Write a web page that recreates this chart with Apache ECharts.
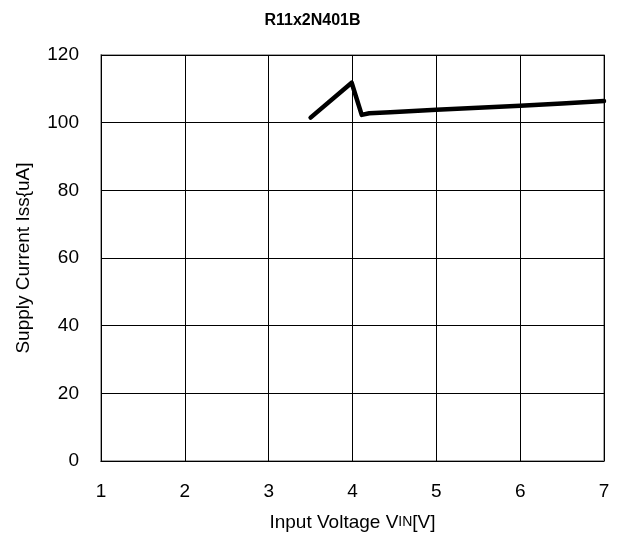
<!DOCTYPE html>
<html><head><meta charset="utf-8">
<script src="https://cdn.jsdelivr.net/npm/echarts@6/dist/echarts.min.js"></script>
<style>html,body{margin:0;padding:0;background:#fff}#c{width:625px;height:542px}</style>
</head><body><div id="c"></div>
<script>
const title = 'R11x2N401B';
const xName = 'Input Voltage V{s|IN}[V]';
const yName = 'Supply Current Iss{uA]';
const vin = [3.5, 3.99, 4.11, 4.2, 4.45, 5.0, 5.5, 6.0, 6.5, 7.0];
const iss = [101.5, 111.8, 102.3, 102.8, 103.1, 103.8, 104.4, 105.0, 105.7, 106.4];
const chart = echarts.init(document.getElementById('c'), null, {renderer: 'canvas'});
const F = 'Liberation Sans, Arial, sans-serif';
chart.setOption({
  animation: false,
  backgroundColor: '#fff',
  title: {text: title, left: 'center', top: 8, textStyle: {fontFamily: F, fontSize: 16, fontWeight: 'bold', color: '#000'}},
  grid: {left: 101, right: 21, top: 55, bottom: 81, show: true, borderColor: '#888', borderWidth: 1.5},
  xAxis: {
    type: 'value', min: 1, max: 7, interval: 1,
    name: xName, nameLocation: 'middle', nameGap: 52,
    nameTextStyle: {fontFamily: F, fontSize: 19, color: '#000', rich: {s: {fontFamily: F, fontSize: 14, color: '#000'}}},
    axisLine: {show: true, onZero: false, lineStyle: {color: '#000', width: 1}},
    axisTick: {show: false},
    splitLine: {show: true, lineStyle: {color: '#000', width: 1}},
    axisLabel: {fontFamily: F, fontSize: 19, color: '#000', margin: 21}
  },
  yAxis: {
    type: 'value', min: 0, max: 120, interval: 20,
    name: yName, nameLocation: 'middle', nameGap: 68,
    nameTextStyle: {fontFamily: F, fontSize: 19, color: '#000'},
    axisLine: {show: true, lineStyle: {color: '#000', width: 1}},
    axisTick: {show: false},
    splitLine: {show: true, lineStyle: {color: '#000', width: 1}},
    axisLabel: {fontFamily: F, fontSize: 19, color: '#000', margin: 22}
  },
  series: [{
    type: 'line', data: vin.map((v, i) => [v, iss[i]]),
    showSymbol: false, smooth: false,
    lineStyle: {color: '#000', width: 4.5, cap: 'round', join: 'round'}
  }]
});
</script></body></html>
